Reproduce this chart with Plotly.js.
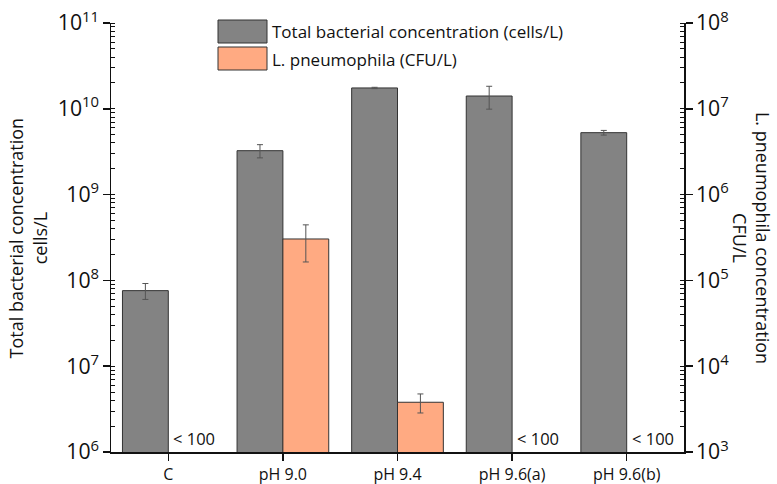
<!DOCTYPE html>
<html>
<head>
<meta charset="utf-8">
<script src="https://cdn.plot.ly/plotly-3.0.1.min.js"></script>
<style>html,body{margin:0;padding:0;background:#fff;}#chart{width:777px;height:484px;}</style>
</head>
<body>
<div id="chart"></div>
<script>
var categories = ["C", "pH 9.0", "pH 9.4", "pH 9.6(a)", "pH 9.6(b)"];
var totalBacteria = [7.6e7, 3.25e9, 1.75e10, 1.41e10, 5.27e9];
var totalBacteriaErr = [1.6e7, 0.57e9, 0.03e10, 4.2e9, 0.33e9];
var legionella = [null, 3.04e5, 3.8e3, null, null];
var legionellaErr = [null, 1.4e5, 0.95e3, null, null];
var belowLimitLabel = "< 100";
var leftRange = [6, 11];   // log10 of 10^6 .. 10^11
var rightRange = [3, 8];   // log10 of 10^3 .. 10^8
var seriesNames = ["Total bacterial concentration (cells/L)", "L. pneumophila (CFU/L)"];

var greyCol = "#838383", orangeCol = "#FFAA82", edge = "#333333";
var FONT = "Open Sans, Lato, sans-serif";

var traces = [
  {type: "bar", x: categories, y: totalBacteria, yaxis: "y", width: 0.4, offset: -0.4,
   marker: {color: greyCol, line: {color: edge, width: 1}},
   error_y: {type: "data", array: totalBacteriaErr, visible: true, color: "#555", thickness: 1, width: 3},
   name: seriesNames[0], showlegend: false},
  {type: "bar", x: categories, y: legionella, yaxis: "y2", width: 0.4, offset: 0,
   marker: {color: orangeCol, line: {color: edge, width: 1}},
   error_y: {type: "data", array: legionellaErr, visible: true, color: "#555", thickness: 1, width: 3},
   name: seriesNames[1], showlegend: false}
];

var annotations = [];
categories.forEach(function (c, i) {
  if (legionella[i] === null) {
    annotations.push({x: c, xref: "x", y: 0, yref: "paper", xanchor: "left", yanchor: "bottom",
      xshift: 3, yshift: 0, text: belowLimitLabel, showarrow: false, font: {family: FONT, size: 16.5, color: "#111"}});
  }
});
annotations.push({xref: "paper", yref: "paper", x: -0.145, y: 0.5, xanchor: "center", yanchor: "middle",
  text: "Total bacterial concentration<br>cells/L", textangle: -90, showarrow: false,
  font: {family: FONT, size: 18, color: "#111"}});
annotations.push({xref: "paper", yref: "paper", x: 1.118, y: 0.5, xanchor: "center", yanchor: "middle",
  text: "L. pneumophila concentration<br>CFU/L", textangle: 90, showarrow: false,
  font: {family: FONT, size: 18, color: "#111"}});
annotations.push({xref: "paper", yref: "paper", x: (270 - 111) / 573, y: (452 - 32) / 429, xanchor: "left", yanchor: "middle",
  text: seriesNames[0], showarrow: false, font: {family: FONT, size: 17, color: "#111"}});
annotations.push({xref: "paper", yref: "paper", x: (270 - 111) / 573, y: (452 - 60) / 429, xanchor: "left", yanchor: "middle",
  text: seriesNames[1], showarrow: false, font: {family: FONT, size: 17, color: "#111"}});

var shapes = [
  {type: "rect", xref: "paper", yref: "paper", x0: (218 - 111) / 573, x1: (267 - 111) / 573,
   y0: (452 - 43) / 429, y1: (452 - 20) / 429, fillcolor: greyCol, line: {color: edge, width: 1}},
  {type: "rect", xref: "paper", yref: "paper", x0: (218 - 111) / 573, x1: (267 - 111) / 573,
   y0: (452 - 70) / 429, y1: (452 - 47) / 429, fillcolor: orangeCol, line: {color: edge, width: 1}}
];

function axisCommon() {
  return {showgrid: false, zeroline: false, showline: true, linecolor: "#111", linewidth: 1.5,
    tickmode: "linear", tick0: 0, dtick: 1, exponentformat: "power", showexponent: "all",
    ticks: "outside", ticklen: 7, tickcolor: "#111", tickwidth: 1.5,
    tickfont: {family: FONT, size: 17, color: "#111"},
    minor: {dtick: "D1", ticks: "inside", ticklen: 4, tickcolor: "#111", tickwidth: 1, showgrid: false}};
}

var layout = {
  width: 777, height: 484,
  margin: {l: 111, r: 93, t: 23, b: 32},
  showlegend: false,
  barmode: "overlay",
  xaxis: {type: "category", range: [-0.5, 4.5], showline: true, linecolor: "#111", linewidth: 1.5,
    ticks: "outside", ticklen: 7, tickwidth: 1.5, tickcolor: "#111", showgrid: false, zeroline: false,
    tickfont: {family: FONT, size: 16, color: "#111"}},
  yaxis: Object.assign({}, axisCommon(), {type: "log", range: leftRange, side: "left"}),
  yaxis2: Object.assign({}, axisCommon(), {type: "log", range: rightRange, side: "right", overlaying: "y"}),
  annotations: annotations,
  shapes: shapes
};

Plotly.newPlot("chart", traces, layout, {displayModeBar: false, staticPlot: true});
</script>
</body>
</html>
